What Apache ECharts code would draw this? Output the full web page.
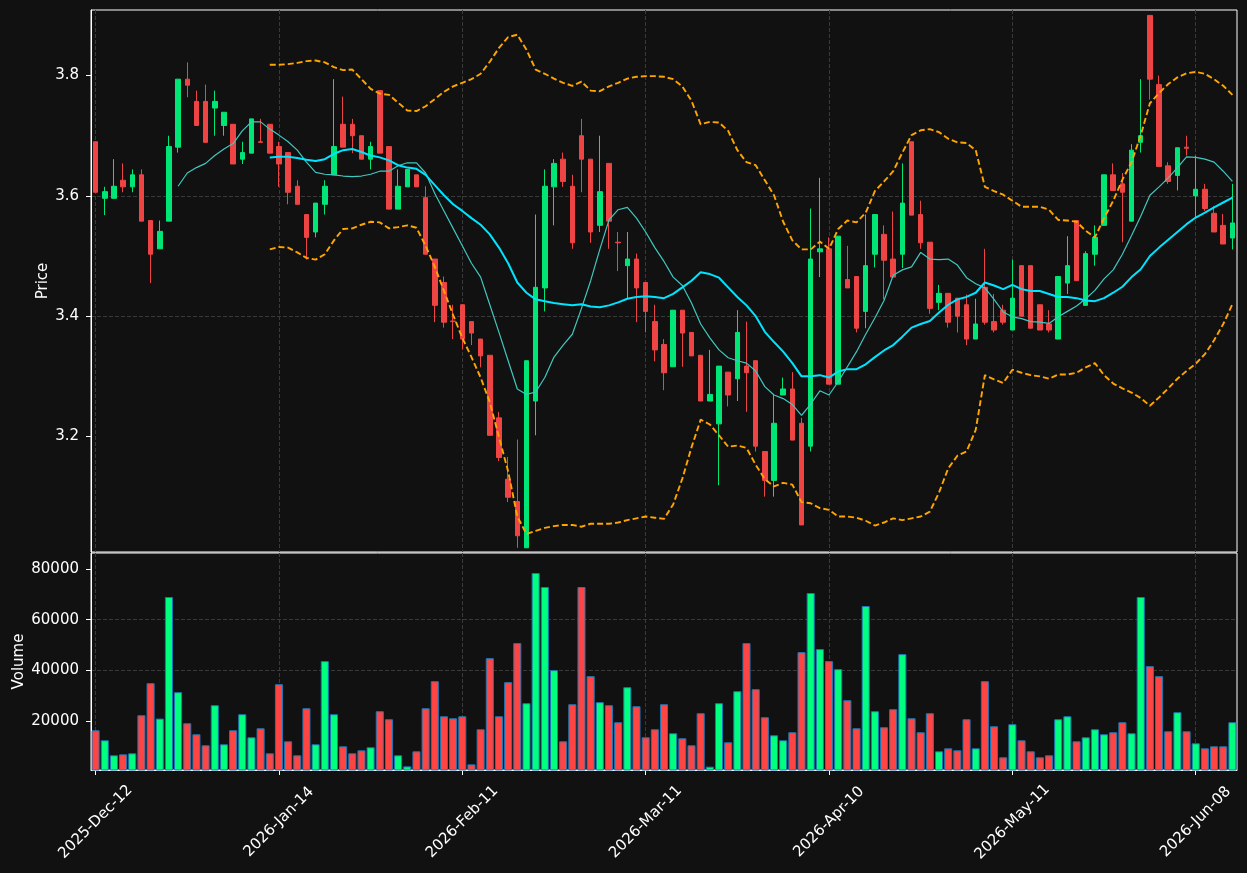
<!DOCTYPE html>
<html>
<head>
<meta charset="utf-8">
<script src="https://cdn.jsdelivr.net/npm/echarts@6/dist/echarts.min.js"></script>
<style>
html,body{margin:0;padding:0;background:#111111;}
#chart{width:1247px;height:873px;}
</style>
</head>
<body>
<div id="chart"></div>
<script>
// ---------- data ----------
const MONTHS = ['Jan','Feb','Mar','Apr','May','Jun','Jul','Aug','Sep','Oct','Nov','Dec'];
const HOLIDAYS = ['2025-12-25','2025-12-26','2026-01-01','2026-04-03','2026-04-06','2026-05-04'];
const START_DATE = [2025, 11, 12];

const open = [3.690,3.596,3.596,3.626,3.615,3.635,3.559,3.512,3.558,3.681,
3.794,3.757,3.757,3.746,3.717,3.719,3.661,3.671,3.690,3.719,
3.682,3.672,3.616,3.569,3.540,3.586,3.635,3.719,3.719,3.700,
3.661,3.775,3.682,3.578,3.615,3.635,3.597,3.495,3.456,3.392,
3.419,3.391,3.362,3.335,3.231,3.129,3.092,3.015,3.259,3.447,
3.615,3.661,3.616,3.700,3.661,3.551,3.654,3.523,3.484,3.495,
3.456,3.391,3.353,3.316,3.410,3.373,3.335,3.259,3.221,3.307,
3.296,3.317,3.326,3.175,3.127,3.269,3.279,3.222,3.184,3.507,
3.512,3.287,3.461,3.466,3.408,3.503,3.536,3.495,3.503,3.690,
3.569,3.523,3.423,3.438,3.430,3.419,3.362,3.448,3.391,3.410,
3.377,3.484,3.484,3.419,3.387,3.362,3.455,3.559,3.418,3.503,
3.551,3.635,3.620,3.558,3.689,3.900,3.785,3.650,3.634,3.681,
3.600,3.611,3.571,3.551,3.530];

const high = [3.690,3.615,3.661,3.654,3.644,3.644,3.559,3.559,3.700,3.794,
3.822,3.775,3.785,3.775,3.739,3.719,3.690,3.728,3.728,3.719,
3.690,3.672,3.626,3.569,3.588,3.626,3.794,3.765,3.728,3.700,
3.690,3.775,3.682,3.644,3.644,3.635,3.616,3.495,3.466,3.419,
3.419,3.391,3.362,3.335,3.241,3.166,3.195,3.326,3.569,3.644,
3.661,3.672,3.635,3.728,3.661,3.700,3.654,3.540,3.540,3.504,
3.456,3.419,3.362,3.410,3.410,3.373,3.335,3.344,3.317,3.307,
3.410,3.391,3.326,3.175,3.269,3.298,3.307,3.231,3.579,3.630,
3.531,3.533,3.517,3.466,3.569,3.569,3.551,3.574,3.654,3.690,
3.592,3.523,3.452,3.438,3.430,3.436,3.429,3.512,3.437,3.419,
3.494,3.484,3.484,3.419,3.410,3.466,3.533,3.559,3.508,3.551,
3.635,3.654,3.638,3.686,3.794,3.900,3.800,3.656,3.680,3.700,
3.667,3.620,3.583,3.570,3.620];

const low = [3.606,3.568,3.595,3.606,3.606,3.558,3.455,3.512,3.558,3.672,
3.764,3.717,3.689,3.700,3.700,3.653,3.653,3.671,3.689,3.671,
3.615,3.586,3.586,3.494,3.531,3.569,3.635,3.681,3.671,3.661,
3.644,3.671,3.578,3.578,3.615,3.615,3.503,3.390,3.381,3.362,
3.345,3.352,3.315,3.202,3.159,3.091,3.015,3.015,3.202,3.408,
3.551,3.615,3.512,3.606,3.522,3.540,3.512,3.475,3.429,3.390,
3.373,3.325,3.277,3.316,3.316,3.334,3.259,3.259,3.119,3.250,
3.259,3.241,3.175,3.100,3.100,3.269,3.194,3.053,3.175,3.465,
3.287,3.287,3.447,3.373,3.380,3.481,3.428,3.465,3.480,3.568,
3.512,3.404,3.410,3.381,3.373,3.352,3.362,3.386,3.373,3.386,
3.377,3.400,3.380,3.377,3.373,3.362,3.437,3.459,3.418,3.484,
3.551,3.609,3.523,3.558,3.672,3.760,3.649,3.620,3.609,3.667,
3.563,3.575,3.540,3.520,3.511];

const close = [3.606,3.607,3.616,3.615,3.635,3.558,3.503,3.541,3.682,3.794,
3.784,3.717,3.689,3.757,3.739,3.653,3.672,3.728,3.689,3.671,
3.653,3.606,3.586,3.531,3.588,3.616,3.682,3.681,3.700,3.661,
3.682,3.671,3.578,3.616,3.644,3.615,3.503,3.418,3.390,3.391,
3.362,3.372,3.334,3.202,3.165,3.099,3.035,3.326,3.448,3.616,
3.654,3.624,3.522,3.661,3.540,3.607,3.558,3.522,3.495,3.447,
3.408,3.344,3.306,3.410,3.372,3.334,3.259,3.270,3.317,3.269,
3.373,3.306,3.184,3.127,3.222,3.279,3.194,3.053,3.495,3.512,
3.287,3.533,3.447,3.380,3.484,3.569,3.493,3.465,3.588,3.568,
3.522,3.413,3.438,3.390,3.400,3.362,3.387,3.390,3.377,3.390,
3.430,3.400,3.380,3.377,3.377,3.466,3.484,3.459,3.504,3.531,
3.635,3.609,3.606,3.676,3.700,3.794,3.649,3.624,3.680,3.679,
3.611,3.579,3.540,3.520,3.555];

const volume = [16450,12500,6580,6970,7370,22370,35000,21050,68950,31450,
19210,14870,10530,26320,10920,16450,22760,13680,17240,7370,
34610,12100,6580,25130,10920,43690,22760,10130,7370,8550,
9740,23950,20790,6580,2230,8160,25130,35790,21970,21180,
21970,3020,16840,44870,21970,35400,50790,27110,78430,72900,
40140,12100,26710,72900,37770,27500,26320,19610,33420,25920,
13680,16840,26710,15260,13290,10530,23160,2100,27110,11710,
31840,50790,32630,21580,14470,12500,15660,47240,70530,48430,
43690,40530,28290,17240,65400,23950,17630,24740,46450,21180,
15660,23160,8160,9340,8550,20790,9340,35790,18030,5790,
18820,12500,8160,5790,6580,20790,21970,12100,13680,16840,
14870,15660,19610,15260,68960,41710,37770,16050,23550,16050,
11310,9340,10130,10130,19610];

const ma10 = [null,null,null,null,null,null,null,null,null,3.616,
3.638,3.647,3.654,3.667,3.678,3.687,3.708,3.723,3.723,3.711,
3.701,3.690,3.676,3.656,3.639,3.636,3.635,3.633,3.632,3.633,
3.636,3.641,3.641,3.650,3.655,3.655,3.638,3.604,3.575,3.546,
3.517,3.488,3.465,3.419,3.373,3.326,3.279,3.270,3.274,3.298,
3.332,3.352,3.370,3.413,3.459,3.511,3.560,3.577,3.581,3.563,
3.540,3.514,3.491,3.465,3.451,3.422,3.387,3.364,3.344,3.331,
3.326,3.322,3.309,3.283,3.269,3.263,3.253,3.235,3.254,3.276,
3.269,3.291,3.316,3.341,3.370,3.397,3.426,3.468,3.477,3.482,
3.506,3.495,3.494,3.495,3.485,3.464,3.454,3.447,3.428,3.407,
3.399,3.396,3.391,3.390,3.388,3.399,3.408,3.417,3.429,3.443,
3.462,3.477,3.503,3.534,3.566,3.601,3.615,3.630,3.647,3.665,
3.664,3.661,3.656,3.641,3.624];

const ma20 = [null,null,null,null,null,null,null,null,null,null,
null,null,null,null,null,null,null,null,null,3.664,
3.665,3.665,3.663,3.660,3.658,3.661,3.670,3.676,3.678,3.673,
3.667,3.664,3.659,3.651,3.647,3.645,3.635,3.618,3.601,3.586,
3.575,3.563,3.552,3.536,3.514,3.488,3.456,3.439,3.428,3.425,
3.422,3.420,3.418,3.420,3.416,3.415,3.418,3.423,3.429,3.432,
3.433,3.432,3.430,3.437,3.448,3.459,3.473,3.470,3.464,3.448,
3.432,3.418,3.400,3.374,3.357,3.341,3.322,3.300,3.300,3.302,
3.298,3.308,3.312,3.312,3.320,3.332,3.343,3.352,3.366,3.381,
3.387,3.392,3.406,3.419,3.428,3.432,3.439,3.456,3.451,3.445,
3.452,3.445,3.442,3.442,3.437,3.432,3.432,3.430,3.426,3.425,
3.430,3.439,3.449,3.465,3.478,3.500,3.514,3.527,3.540,3.553,
3.564,3.572,3.581,3.589,3.597];

const bbUpper = [null,null,null,null,null,null,null,null,null,null,
null,null,null,null,null,null,null,null,null,3.818,
3.818,3.819,3.821,3.824,3.825,3.822,3.814,3.809,3.810,3.794,
3.778,3.770,3.768,3.755,3.742,3.741,3.749,3.761,3.773,3.782,
3.788,3.794,3.803,3.823,3.846,3.864,3.868,3.843,3.810,3.803,
3.795,3.788,3.783,3.790,3.775,3.774,3.782,3.788,3.795,3.798,
3.799,3.799,3.798,3.794,3.782,3.758,3.719,3.723,3.722,3.708,
3.676,3.656,3.651,3.626,3.601,3.557,3.526,3.511,3.511,3.524,
3.512,3.545,3.559,3.556,3.572,3.608,3.624,3.641,3.672,3.701,
3.709,3.711,3.706,3.695,3.689,3.688,3.676,3.615,3.608,3.602,
3.592,3.582,3.582,3.582,3.577,3.560,3.559,3.557,3.542,3.531,
3.563,3.592,3.627,3.656,3.701,3.754,3.771,3.786,3.797,3.804,
3.806,3.803,3.794,3.783,3.768];

const bbLower = [null,null,null,null,null,null,null,null,null,null,
null,null,null,null,null,null,null,null,null,3.511,
3.515,3.514,3.506,3.497,3.494,3.503,3.526,3.545,3.546,3.552,
3.557,3.556,3.546,3.548,3.551,3.547,3.517,3.482,3.442,3.402,
3.364,3.332,3.298,3.257,3.199,3.142,3.067,3.038,3.043,3.048,
3.051,3.053,3.053,3.050,3.055,3.055,3.055,3.057,3.061,3.064,
3.067,3.065,3.063,3.087,3.130,3.182,3.228,3.220,3.202,3.183,
3.185,3.181,3.153,3.129,3.117,3.123,3.120,3.091,3.089,3.081,
3.078,3.067,3.067,3.065,3.060,3.052,3.057,3.064,3.061,3.064,
3.067,3.075,3.107,3.147,3.168,3.175,3.211,3.302,3.295,3.289,
3.311,3.306,3.302,3.300,3.296,3.303,3.303,3.306,3.315,3.322,
3.302,3.288,3.280,3.273,3.264,3.251,3.265,3.280,3.296,3.309,
3.321,3.337,3.360,3.387,3.420];

const PRICE_TICKS = [3.2, 3.4, 3.6, 3.8];
const VOLUME_TICKS = [20000, 40000, 60000, 80000];
const LABEL_EVERY = 20;

// ---------- categories (trading days) ----------
const dates = [];
(function () {
  let t = Date.UTC(START_DATE[0], START_DATE[1], START_DATE[2]);
  while (dates.length < close.length) {
    const d = new Date(t);
    const iso = d.toISOString().slice(0, 10);
    const wd = d.getUTCDay();
    if (wd !== 0 && wd !== 6 && HOLIDAYS.indexOf(iso) < 0) {
      dates.push(d.getUTCFullYear() + '-' + MONTHS[d.getUTCMonth()] + '-' + String(d.getUTCDate()).padStart(2, '0'));
    }
    t += 86400000;
  }
})();

// ---------- styles ----------
const UP = '#00e676', DOWN = '#ef4444';
const UP_VOL = '#00ff7f', DOWN_VOL = '#ff4444';
const FONT = 'DejaVu Sans';
const GRID_LINE = { color: '#3a3a3a', width: 1, type: [4, 2] };

const candleData = open.map((o, i) => [o, close[i], low[i], high[i]]);
const volData = volume.map((v, i) => ({
  value: v,
  itemStyle: { color: close[i] >= open[i] ? UP_VOL : DOWN_VOL }
}));

const showEvery = (idx) => idx % LABEL_EVERY === 0;

const chart = echarts.init(document.getElementById('chart'), null, { renderer: 'canvas' });
chart.setOption({
  animation: false,
  backgroundColor: '#111111',
  grid: [
    { left: 91, right: 10, top: 10, height: 542, show: true, backgroundColor: '#111111', borderColor: '#ffffff', borderWidth: 1, outerBoundsMode: 'none' },
    { left: 91, right: 10, top: 553, height: 217, show: true, backgroundColor: '#111111', borderColor: '#ffffff', borderWidth: 1, outerBoundsMode: 'none' }
  ],
  xAxis: [
    {
      type: 'category', gridIndex: 0, data: dates, boundaryGap: true,
      axisLine: { show: false },
      axisTick: { show: false },
      axisLabel: { show: false },
      splitLine: { show: true, interval: showEvery, alignWithLabel: true, lineStyle: GRID_LINE }
    },
    {
      type: 'category', gridIndex: 1, data: dates, boundaryGap: true,
      axisLine: { show: true, lineStyle: { color: '#ffffff', width: 1 } },
      axisTick: { show: true, alignWithLabel: true, interval: showEvery, length: 5, lineStyle: { color: '#ffffff', width: 1 } },
      axisLabel: {
        show: true, interval: showEvery, rotate: 45, color: '#ffffff',
        fontFamily: FONT, fontSize: 15, align: 'center', verticalAlign: 'middle', margin: 52
      },
      splitLine: { show: true, interval: showEvery, alignWithLabel: true, lineStyle: GRID_LINE }
    }
  ],
  yAxis: [
    {
      type: 'value', gridIndex: 0, min: 3.008, max: 3.909, position: 'left',
      name: 'Price', nameLocation: 'middle', nameGap: 40, nameMoveOverlap: false,
      nameTextStyle: { color: '#ffffff', fontFamily: FONT, fontSize: 15 },
      axisLine: { show: true, lineStyle: { color: '#ffffff', width: 1 } },
      axisTick: { show: true, length: 5, customValues: PRICE_TICKS, lineStyle: { color: '#ffffff', width: 1 } },
      axisLabel: {
        color: '#ffffff', fontFamily: FONT, fontSize: 15, margin: 12, customValues: PRICE_TICKS,
        formatter: (v) => (Math.abs(v * 5 - Math.round(v * 5)) < 1e-6 ? v.toFixed(1) : '')
      },
      splitLine: { show: true, showMinLine: false, showMaxLine: false, lineStyle: GRID_LINE }
    },
    {
      type: 'value', gridIndex: 1, min: 790, max: 86300, position: 'left',
      name: 'Volume', nameLocation: 'middle', nameGap: 64, nameMoveOverlap: false,
      nameTextStyle: { color: '#ffffff', fontFamily: FONT, fontSize: 15 },
      axisLine: { show: true, lineStyle: { color: '#ffffff', width: 1 } },
      axisTick: { show: true, length: 5, customValues: VOLUME_TICKS, lineStyle: { color: '#ffffff', width: 1 } },
      axisLabel: {
        color: '#ffffff', fontFamily: FONT, fontSize: 15, margin: 12, customValues: VOLUME_TICKS,
        formatter: (v) => (v % 20000 === 0 ? String(v) : '')
      },
      splitLine: { show: true, showMinLine: false, showMaxLine: false, lineStyle: GRID_LINE }
    }
  ],
  series: [
    {
      name: 'OHLC', type: 'candlestick', xAxisIndex: 0, yAxisIndex: 0,
      data: candleData, barWidth: 5,
      itemStyle: { color: UP, color0: DOWN, borderColor: UP, borderColor0: DOWN, borderWidth: 1 }
    },
    {
      name: 'BB Upper', type: 'line', xAxisIndex: 0, yAxisIndex: 0, data: bbUpper,
      symbol: 'none', lineStyle: { color: '#ffa500', width: 1.9, type: [6, 3] }
    },
    {
      name: 'BB Lower', type: 'line', xAxisIndex: 0, yAxisIndex: 0, data: bbLower,
      symbol: 'none', lineStyle: { color: '#ffa500', width: 1.9, type: [6, 3] }
    },
    {
      name: 'MA10', type: 'line', xAxisIndex: 0, yAxisIndex: 0, data: ma10,
      symbol: 'none', lineStyle: { color: '#40c8c0', width: 1.2 }
    },
    {
      name: 'MA20', type: 'line', xAxisIndex: 0, yAxisIndex: 0, data: ma20,
      symbol: 'none', lineStyle: { color: '#00e5ff', width: 2 }
    },
    {
      name: 'Volume', type: 'bar', xAxisIndex: 1, yAxisIndex: 1, data: volData,
      barWidth: '88%',
      itemStyle: { borderColor: '#1f77b4', borderWidth: 1 }
    }
  ]
});
</script>
</body>
</html>
